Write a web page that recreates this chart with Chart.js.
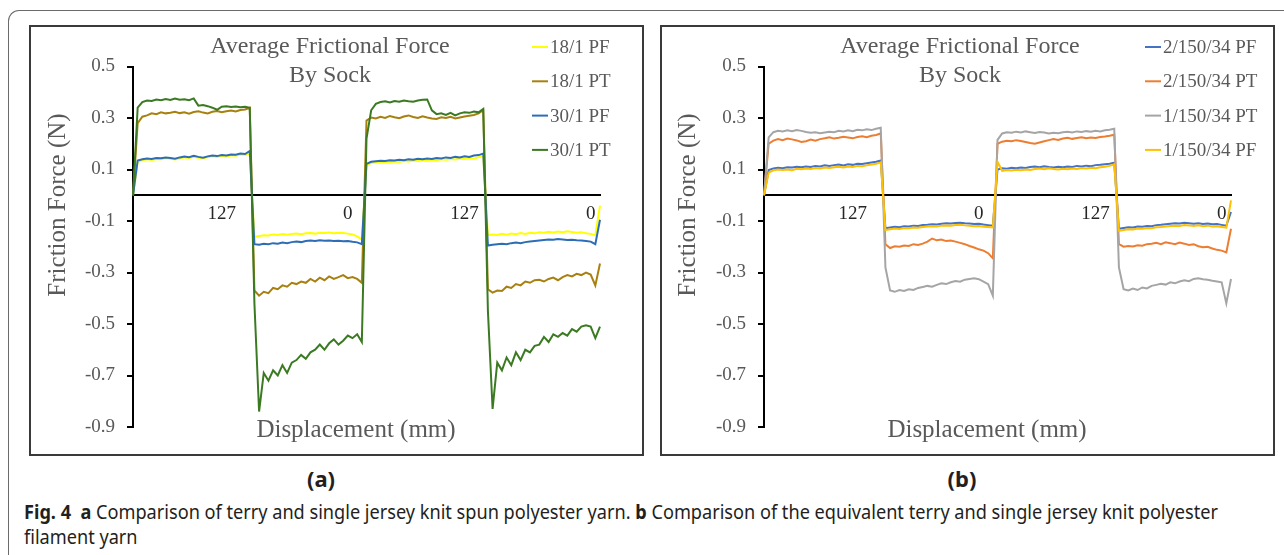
<!DOCTYPE html>
<html>
<head>
<meta charset="utf-8">
<title>Average Frictional Force By Sock</title>
<script src="https://cdn.jsdelivr.net/npm/chart.js@4.4.1/dist/chart.umd.min.js"></script>
<style>
  html, body { margin: 0; padding: 0; background: #fff; }
  body { position: relative; width: 1284px; height: 555px; overflow: hidden; }
  .frame { position: absolute; left: 8px; top: 10px; width: 1400px; height: 600px; border-left: 1.5px solid #6b6b6b; border-top: 1.5px solid #6b6b6b; border-top-left-radius: 11px; }
  .panel { position: absolute; top: 25px; width: 611px; height: 427px; border: 2px solid #3a3a3a; }
  .panel canvas { display: block; }
  .sub { position: absolute; top: 467px; font: bold 22px/22px "Noto Sans", sans-serif; color: #231f20; transform: translateX(-50%); }
  .cap { position: absolute; left: 24px; font: 19.5px/19.5px "Noto Sans", sans-serif; color: #231f20; white-space: nowrap; transform-origin: 0 0; }
</style>
</head>
<body>
<div class="frame"></div>
<div class="panel" style="left:29px"><canvas id="chartA" width="611" height="427"></canvas></div>
<div class="panel" style="left:660px"><canvas id="chartB" width="611" height="427"></canvas></div>
<div class="sub" style="left:321px">(a)</div>
<div class="sub" style="left:962px">(b)</div>
<div class="cap" id="cap1" style="top:502px"><b>Fig. 4</b>&nbsp; <b>a</b> Comparison of terry and single jersey knit spun polyester yarn. <b>b</b> Comparison of the equivalent terry and single jersey knit polyester</div>
<div class="cap" id="cap2" style="top:527px">filament yarn</div>

<script>
// x axis: one category per sample, only a few carry a displacement label
const xTickIndex = [19, 46, 71, 98];
const xTickText = ['127', '0', '127', '0'];

const yMin = -0.9;
const yMax = 0.5;
const yStep = 0.2;

const titleLines = ['Average Frictional Force', 'By Sock'];
const xAxisTitle = 'Displacement (mm)';
const yAxisTitle = 'Friction Force (N)';

// (a) spun polyester yarn
const namesA = ['18/1 PF', '18/1 PT', '30/1 PF', '30/1 PT'];
const pf18 = [
  0, 0.13, 0.136, 0.14, 0.137, 0.141, 0.14, 0.144, 0.142, 0.139, 0.143, 0.147, 0.145, 0.149, 0.146, 0.143, 0.148, 0.151, 0.149, 0.153, 0.15, 0.155, 0.153, 0.158, 0.156, 0.162,
  -0.162, -0.158, -0.155, -0.156, -0.152, -0.154, -0.151, -0.153, -0.15, -0.149, -0.151, -0.148, -0.147, -0.149, -0.146, -0.147, -0.145, -0.148, -0.146, -0.147, -0.149, -0.152, -0.16, -0.172,
  0.118, 0.125, 0.128, 0.126, 0.13, 0.128, 0.131, 0.129, 0.133, 0.131, 0.135, 0.133, 0.136, 0.134, 0.138, 0.136, 0.14, 0.138, 0.141, 0.139, 0.143, 0.141, 0.145, 0.142, 0.148, 0.152,
  -0.155, -0.152, -0.154, -0.15, -0.153, -0.149, -0.151, -0.147, -0.15, -0.146, -0.148, -0.144, -0.146, -0.142, -0.145, -0.141, -0.144, -0.14, -0.143, -0.146, -0.144, -0.148, -0.15, -0.155, -0.04
];
const pt18 = [
  0, 0.28, 0.305, 0.31, 0.318, 0.315, 0.322, 0.318, 0.32, 0.324, 0.319, 0.322, 0.317, 0.323, 0.326, 0.321, 0.318, 0.324, 0.327, 0.322, 0.326, 0.329, 0.325, 0.331, 0.333, 0.34,
  -0.37, -0.39, -0.375, -0.38, -0.36, -0.365, -0.35, -0.355, -0.34, -0.345, -0.335, -0.34, -0.325, -0.335, -0.32, -0.33, -0.315, -0.325, -0.318, -0.31, -0.322, -0.318, -0.325, -0.34,
  0.29, 0.302, 0.298, 0.305, 0.3, 0.308, 0.303, 0.299, 0.306, 0.31, 0.304, 0.3, 0.307, 0.302, 0.298, 0.296, 0.303, 0.3, 0.305, 0.298, 0.302, 0.306, 0.309, 0.312, 0.318, 0.33,
  -0.365, -0.378, -0.37, -0.372, -0.355, -0.36, -0.345, -0.35, -0.335, -0.34, -0.33, -0.328, -0.335, -0.325, -0.32, -0.33, -0.318, -0.31, -0.315, -0.305, -0.31, -0.3, -0.308, -0.35, -0.265
];
const pf30 = [
  0, 0.135, 0.14, 0.143, 0.141, 0.145, 0.144, 0.147, 0.145, 0.142, 0.147, 0.15, 0.148, 0.153, 0.149, 0.146, 0.151, 0.154, 0.152, 0.156, 0.154, 0.158, 0.157, 0.162, 0.16, 0.172,
  -0.19, -0.192, -0.188, -0.19, -0.186, -0.188, -0.184, -0.186, -0.182, -0.18, -0.182, -0.178, -0.176, -0.178, -0.175, -0.177, -0.176, -0.178, -0.177, -0.179, -0.178, -0.181, -0.183, -0.19,
  0.122, 0.13, 0.132, 0.134, 0.133, 0.136, 0.135, 0.138, 0.136, 0.14, 0.138, 0.142, 0.14, 0.143, 0.141, 0.145, 0.143, 0.147, 0.145, 0.149, 0.147, 0.151, 0.149, 0.154, 0.156, 0.162,
  -0.195, -0.192, -0.19, -0.188, -0.19, -0.186, -0.184, -0.186, -0.182, -0.18, -0.178, -0.176, -0.174, -0.172, -0.173, -0.17, -0.172, -0.174, -0.173, -0.175, -0.176, -0.178, -0.18, -0.19, -0.095
];
const pt30 = [
  0, 0.34, 0.362, 0.368, 0.366, 0.372, 0.369, 0.374, 0.37, 0.376, 0.371, 0.373, 0.369, 0.376, 0.348, 0.35, 0.346, 0.34, 0.332, 0.344, 0.346, 0.343, 0.345, 0.342, 0.344, 0.34,
  -0.42, -0.84, -0.69, -0.72, -0.68, -0.7, -0.66, -0.69, -0.65, -0.64, -0.62, -0.635, -0.61, -0.6, -0.58, -0.6, -0.575, -0.56, -0.58, -0.565, -0.545, -0.555, -0.54, -0.57,
  0.22, 0.33, 0.355, 0.362, 0.365, 0.36, 0.366, 0.363, 0.368, 0.365, 0.363, 0.368, 0.371, 0.372, 0.33, 0.315, 0.318, 0.312, 0.32, 0.31, 0.318, 0.322, 0.32, 0.325, 0.322, 0.335,
  -0.45, -0.83, -0.65, -0.68, -0.63, -0.66, -0.61, -0.64, -0.6, -0.61, -0.585, -0.58, -0.55, -0.57, -0.54, -0.55, -0.535, -0.545, -0.52, -0.53, -0.51, -0.505, -0.51, -0.555, -0.51
];

// (b) filament yarn
const namesB = ['2/150/34 PF', '2/150/34 PT', '1/150/34 PT', '1/150/34 PF'];
const pf2x150 = [
  0, 0.098, 0.104, 0.107, 0.105, 0.109, 0.108, 0.111, 0.109, 0.112, 0.11, 0.114, 0.112, 0.116, 0.114, 0.117, 0.119, 0.116, 0.12, 0.118, 0.122, 0.121, 0.124, 0.127, 0.13, 0.135,
  -0.128, -0.125, -0.122, -0.124, -0.12, -0.121, -0.118, -0.119, -0.116, -0.115, -0.113, -0.114, -0.111, -0.109, -0.11, -0.108, -0.107, -0.109, -0.11, -0.112, -0.111, -0.114, -0.116, -0.118,
  0.1, 0.105, 0.103, 0.107, 0.105, 0.108, 0.106, 0.11, 0.112, 0.109, 0.113, 0.11, 0.108, 0.111, 0.109, 0.112, 0.11, 0.114, 0.112, 0.115, 0.113, 0.117, 0.118, 0.12, 0.122, 0.126,
  -0.13, -0.127, -0.124, -0.125, -0.121, -0.122, -0.119, -0.12, -0.116, -0.115, -0.113, -0.111, -0.109, -0.11, -0.107, -0.109, -0.111, -0.109, -0.112, -0.11, -0.113, -0.112, -0.115, -0.118, -0.065
];
const pt2x150 = [
  0, 0.2, 0.212, 0.218, 0.214, 0.22, 0.217, 0.213, 0.207, 0.21, 0.216, 0.212, 0.218, 0.221, 0.225, 0.22, 0.223, 0.227, 0.224, 0.221, 0.226, 0.229, 0.225, 0.231, 0.234, 0.24,
  -0.19, -0.205, -0.198, -0.2, -0.195, -0.197, -0.19, -0.193, -0.188, -0.18, -0.168, -0.175, -0.172, -0.178, -0.176, -0.18, -0.185, -0.19, -0.197, -0.203, -0.21, -0.215, -0.225, -0.245,
  0.2, 0.208, 0.212, 0.21, 0.214, 0.211, 0.207, 0.203, 0.2, 0.205, 0.21, 0.214, 0.218, 0.215, 0.22, 0.223, 0.219, 0.222, 0.225, 0.221, 0.224, 0.222, 0.226, 0.228, 0.231, 0.235,
  -0.19, -0.2, -0.197, -0.199, -0.194, -0.196, -0.19, -0.188, -0.185, -0.19, -0.183, -0.186, -0.19, -0.184, -0.188, -0.193, -0.19, -0.198, -0.202, -0.2, -0.207, -0.212, -0.215, -0.222, -0.13
];
const pt1x150 = [
  0, 0.225, 0.245, 0.25, 0.248, 0.252, 0.249, 0.253, 0.25, 0.246, 0.243, 0.245, 0.241, 0.244, 0.247, 0.245, 0.25, 0.248, 0.252, 0.249, 0.254, 0.252, 0.256, 0.253, 0.258, 0.262,
  -0.28, -0.37, -0.375, -0.368, -0.372, -0.365, -0.368, -0.36, -0.356, -0.352, -0.355, -0.348, -0.342, -0.345, -0.338, -0.333, -0.336, -0.328, -0.325, -0.322, -0.326, -0.335, -0.345, -0.39,
  0.215, 0.24, 0.245, 0.243, 0.247, 0.244, 0.248, 0.245, 0.242, 0.246, 0.244, 0.24, 0.243, 0.241, 0.245, 0.247, 0.244, 0.248, 0.246, 0.249, 0.247, 0.25, 0.248, 0.252, 0.254, 0.258,
  -0.28, -0.365, -0.37, -0.362, -0.368, -0.358, -0.362, -0.352, -0.348, -0.344, -0.347, -0.338, -0.342, -0.335, -0.33, -0.334, -0.325, -0.322, -0.326, -0.328, -0.332, -0.335, -0.338, -0.42, -0.325
];
const pf1x150 = [
  0, 0.088, 0.097, 0.1, 0.098, 0.1, 0.097, 0.103, 0.101, 0.104, 0.102, 0.106, 0.104, 0.108, 0.106, 0.109, 0.111, 0.108, 0.112, 0.11, 0.114, 0.113, 0.116, 0.119, 0.122, 0.128,
  -0.135, -0.132, -0.129, -0.131, -0.127, -0.128, -0.125, -0.126, -0.123, -0.121, -0.12, -0.121, -0.118, -0.117, -0.118, -0.116, -0.115, -0.117, -0.118, -0.12, -0.119, -0.122, -0.123, -0.125,
  0.13, 0.095, 0.098, 0.096, 0.099, 0.097, 0.1, 0.098, 0.102, 0.104, 0.101, 0.105, 0.102, 0.1, 0.103, 0.101, 0.104, 0.102, 0.106, 0.104, 0.107, 0.105, 0.109, 0.111, 0.114, 0.12,
  -0.138, -0.135, -0.132, -0.133, -0.129, -0.13, -0.127, -0.128, -0.124, -0.123, -0.121, -0.119, -0.118, -0.119, -0.116, -0.117, -0.119, -0.117, -0.12, -0.118, -0.121, -0.12, -0.123, -0.126, -0.02
];

const colorsA = ['#ffff00', '#a8800f', '#2e6db5', '#3b7a22'];
const colorsB = ['#4472c4', '#ed7d31', '#a5a5a5', '#ffc000'];

const xLabels = pf18.map((v, i) => {
  const k = xTickIndex.indexOf(i);
  return k === -1 ? '' : xTickText[k];
});

Chart.defaults.font.family = '"Liberation Serif", "Times New Roman", serif';

// title, axis titles and legend sit inside the plot, Excel style
const sockText = {
  id: 'sockText',
  afterDraw(chart, args, o) {
    const ctx = chart.ctx;
    ctx.save();
    ctx.fillStyle = '#595959';
    ctx.textAlign = 'center';
    ctx.textBaseline = 'middle';
    ctx.font = '24px "Liberation Serif"';
    o.title.forEach((t, k) => ctx.fillText(t, o.titleAt[0], o.titleAt[1] + k * 29.5));
    ctx.font = '25px "Liberation Serif"';
    ctx.fillText(o.xTitle, o.xTitleAt[0], o.xTitleAt[1]);
    ctx.save();
    ctx.translate(o.yTitleAt[0], o.yTitleAt[1]);
    ctx.rotate(-Math.PI / 2);
    ctx.fillText(o.yTitle, 0, 0);
    ctx.restore();

    ctx.font = '19px "Liberation Serif"';
    ctx.textAlign = 'left';
    chart.data.datasets.forEach((ds, k) => {
      const y = o.legendAt[1] + k * o.legendGap;
      ctx.strokeStyle = ds.borderColor;
      ctx.lineWidth = 2;
      ctx.beginPath();
      ctx.moveTo(o.legendAt[0], y);
      ctx.lineTo(o.legendAt[0] + 16, y);
      ctx.stroke();
      ctx.fillText(ds.label, o.legendAt[0] + 18, y + 1);
    });
    ctx.restore();
  }
};

function buildChart(id, names, series, colors, textOpts) {
  return new Chart(document.getElementById(id), {
    type: 'line',
    data: {
      labels: xLabels,
      datasets: series.map((s, k) => ({
        label: names[k],
        data: s,
        borderColor: colors[k],
        backgroundColor: colors[k],
        borderWidth: 2,
        pointRadius: 0,
        tension: 0,
        order: series.length - 1 - k
      }))
    },
    options: {
      responsive: false,
      animation: false,
      events: [],
      layout: { padding: { left: 0, right: 42, top: 39.5, bottom: 27 } },
      plugins: {
        legend: { display: false },
        tooltip: { enabled: false },
        sockText: textOpts
      },
      scales: {
        x: {
          type: 'category',
          position: { y: 0 },
          grid: { display: false, drawTicks: false },
          border: { display: true, color: '#000', width: 2 },
          ticks: { autoSkip: false, maxRotation: 0, minRotation: 0, padding: 7, color: '#262626', font: { size: 19 } }
        },
        y: {
          min: yMin,
          max: yMax,
          afterFit(scale) { scale.width = 102; },
          ticks: { stepSize: yStep, padding: 12, color: '#595959', font: { size: 19 }, callback: v => v.toFixed(1) },
          grid: { drawOnChartArea: false, tickLength: 6, color: '#000', lineWidth: 2 },
          border: { color: '#000', width: 2 }
        }
      }
    },
    plugins: [sockText]
  });
}

buildChart('chartA', namesA, [pf18, pt18, pf30, pt30], colorsA, {
  title: titleLines, xTitle: xAxisTitle, yTitle: yAxisTitle,
  titleAt: [299, 19.5], xTitleAt: [325, 403], yTitleAt: [27, 178],
  legendAt: [501, 20], legendGap: 34.3
});
buildChart('chartB', namesB, [pf2x150, pt2x150, pt1x150, pf1x150], colorsB, {
  title: titleLines, xTitle: xAxisTitle, yTitle: yAxisTitle,
  titleAt: [298, 19.5], xTitleAt: [325, 403], yTitleAt: [26, 178],
  legendAt: [483, 20], legendGap: 34.3
});

// the caption face is narrower than Noto Sans, squeeze it to the same line length
const cap1 = document.getElementById('cap1');
const cap2 = document.getElementById('cap2');
const squeeze = 1194 / cap1.getBoundingClientRect().width;
cap1.style.transform = cap2.style.transform = 'scaleX(' + squeeze + ')';
</script>
</body>
</html>
